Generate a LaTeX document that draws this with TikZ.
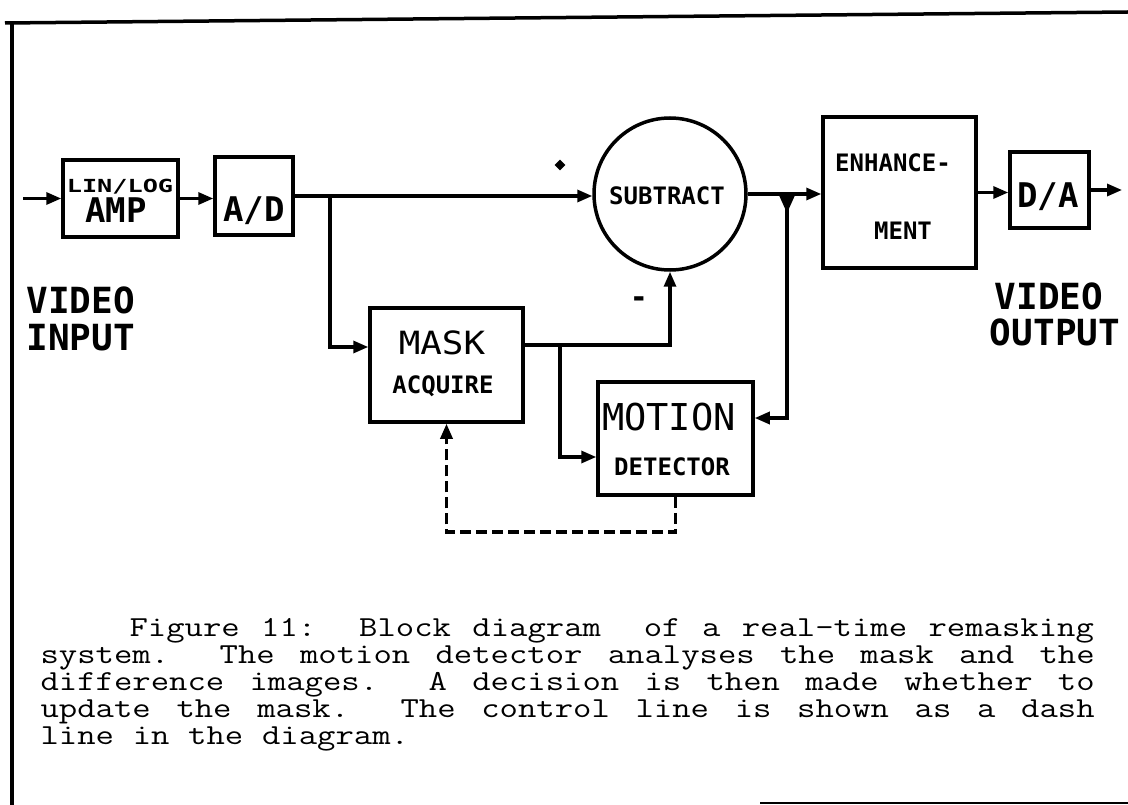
\documentclass[tikz,border=0pt]{standalone}
\usepackage{fontspec}
\usepackage{graphicx}
\usetikzlibrary{arrows.meta,calc,shapes.geometric}
\newfontfamily\lblfont{DejaVu Sans Mono}
\newcommand\hstr[2]{\scalebox{#1}[1]{#2}}
\newcommand\capset{\ttfamily\fontsize{29}{29}\selectfont\frenchspacing\spaceskip=0.525em plus 1em\relax}
\newcommand\capl[2]{\scalebox{1.23}[1]{\makebox[#1][s]{#2}}}
\begin{document}
\begin{tikzpicture}[x=1pt,y=-1pt,
  line width=3.2pt,
  blk/.style={draw,rectangle,inner sep=0pt,line width=3.5pt},
  lab/.style={inner sep=0pt,anchor=base},
  smallb/.style={font=\lblfont\bfseries\fontsize{24}{24}\selectfont},
  bigb/.style={font=\lblfont\bfseries\fontsize{34}{34}\selectfont},
  vid/.style={font=\lblfont\bfseries\fontsize{36}{36}\selectfont,text depth=0pt},
  sig/.style={-{Triangle[length=15pt,width=12pt]}},
  ctrl/.style={sig,dash pattern=on 11pt off 5pt},
  frame/.style={line width=3.5pt},
  capline/.style={anchor=base west,inner sep=0pt,font=\capset}]
\useasboundingbox (0,0) rectangle (1128,805);

% frame
\draw[frame] (5,23) -- (1128,12);
\draw[frame] (12,22) -- (12,805);
\draw[line width=2pt] (760,803) -- (1128,803);

% blocks
\node[blk,minimum width=115pt,minimum height=77pt] (amp) at (120.5,198.5) {};
\node[blk,minimum width=78pt,minimum height=78pt] (ad) at (254,196) {};
\node[draw,circle,minimum size=152pt,inner sep=0pt,line width=3.5pt] (sub) at (670,194) {};
\node[blk,minimum width=153pt,minimum height=151pt] (enh) at (899.5,192.5) {};
\node[blk,minimum width=79pt,minimum height=76pt] (da) at (1049.5,190) {};
\node[blk,minimum width=153pt,minimum height=114pt] (mask) at (446.5,365) {};
\node[blk,minimum width=155pt,minimum height=113pt] (motion) at (675.5,438.5) {};

% labels
\node[lab,font=\lblfont\bfseries\fontsize{18}{18}\selectfont] (tlinlog) at (120,193) {\hstr{1.4}{LIN/LOG}};
\node[lab,bigb] (tamp) at (116,223) {AMP};
\node[lab,bigb] (tad) at (254,222) {A/D};
\node[lab,bigb] (tda) at (1048,208) {D/A};
\node[lab,smallb] (tsub) at (667,205) {SUBTRACT};
\node[lab,smallb] (tenh1) at (893,172) {ENHANCE-};
\node[lab,smallb] (tenh2) at (903,240) {MENT};
\node[lab,font=\lblfont\fontsize{32}{32}\selectfont] (tmask) at (442,355) {\hstr{1.12}{MASK}};
\node[lab,smallb] (tacq) at (443,393) {ACQUIRE};
\node[lab,font=\lblfont\fontsize{37}{37}\selectfont] (tmot) at (669,430) {MOTION};
\node[lab,smallb] (tdet) at (672,475) {DETECTOR};
\node[lab,vid,anchor=base west] (tvin1) at (25,314) {VIDEO};
\node[lab,vid,anchor=base west] (tvin2) at (25,350) {INPUT};
\node[lab,vid] (tvout1) at (1049,309) {VIDEO};
\node[lab,vid] (tvout2) at (1055,345) {OUTPUT};

% signs
\node[fill,diamond,minimum size=12pt,inner sep=0pt] (plus) at (560,165) {};
\node[lab,font=\lblfont\bfseries\fontsize{30}{30}\selectfont] (minus) at (639,308) {-};

% connectors
\coordinate (vin) at (23,198.5);
\coordinate (vout) at (1122,190);
\coordinate (j1) at (330,196);
\coordinate (j2) at (560,345);
\coordinate (j3) at (787,194);

\draw[sig] (vin) -- (amp.west);
\draw[sig] (amp.east) -- (amp.east -| ad.west);
\draw[sig] (ad.east) -- (ad.east -| sub.west);
\draw[sig] (j1) |- (mask.west |- 0,347);
\draw[sig] (mask.east |- 0,345) -| (sub.south);
\draw[sig] (j2) |- (motion.west |- 0,457);
\draw[sig] (sub.east) -- (sub.east -| enh.west);
\fill ($(j3)+(-9,-1)$) -- ($(j3)+(9,-1)$) -- ($(j3)+(0,19)$) -- cycle;
\draw[sig] (j3) |- (motion.east |- 0,418);
\draw[sig] (enh.east) -- (enh.east -| da.west);
\draw[sig] (da.east) -- (vout);
\draw[ctrl] (motion.south) -- (motion.south |- 0,532) -| (mask.south);

% caption
\node[capline] (cap1) at (128,636) {\capl{784pt}{Figure 11:~ Block diagram~ of a real-time remasking}};
\node[capline] (cap2) at (39,663) {\capl{857pt}{system.~ The motion detector analyses the mask and the}};
\node[capline] (cap3) at (39,690) {\capl{857pt}{difference images.~ A decision is then made whether to}};
\node[capline] (cap4) at (39,717) {\capl{857pt}{update the mask.~ The control line is shown as a dash}};
\node[capline] (cap5) at (39,744) {\scalebox{1.23}[1]{line in the diagram.}};
\end{tikzpicture}
\end{document}
